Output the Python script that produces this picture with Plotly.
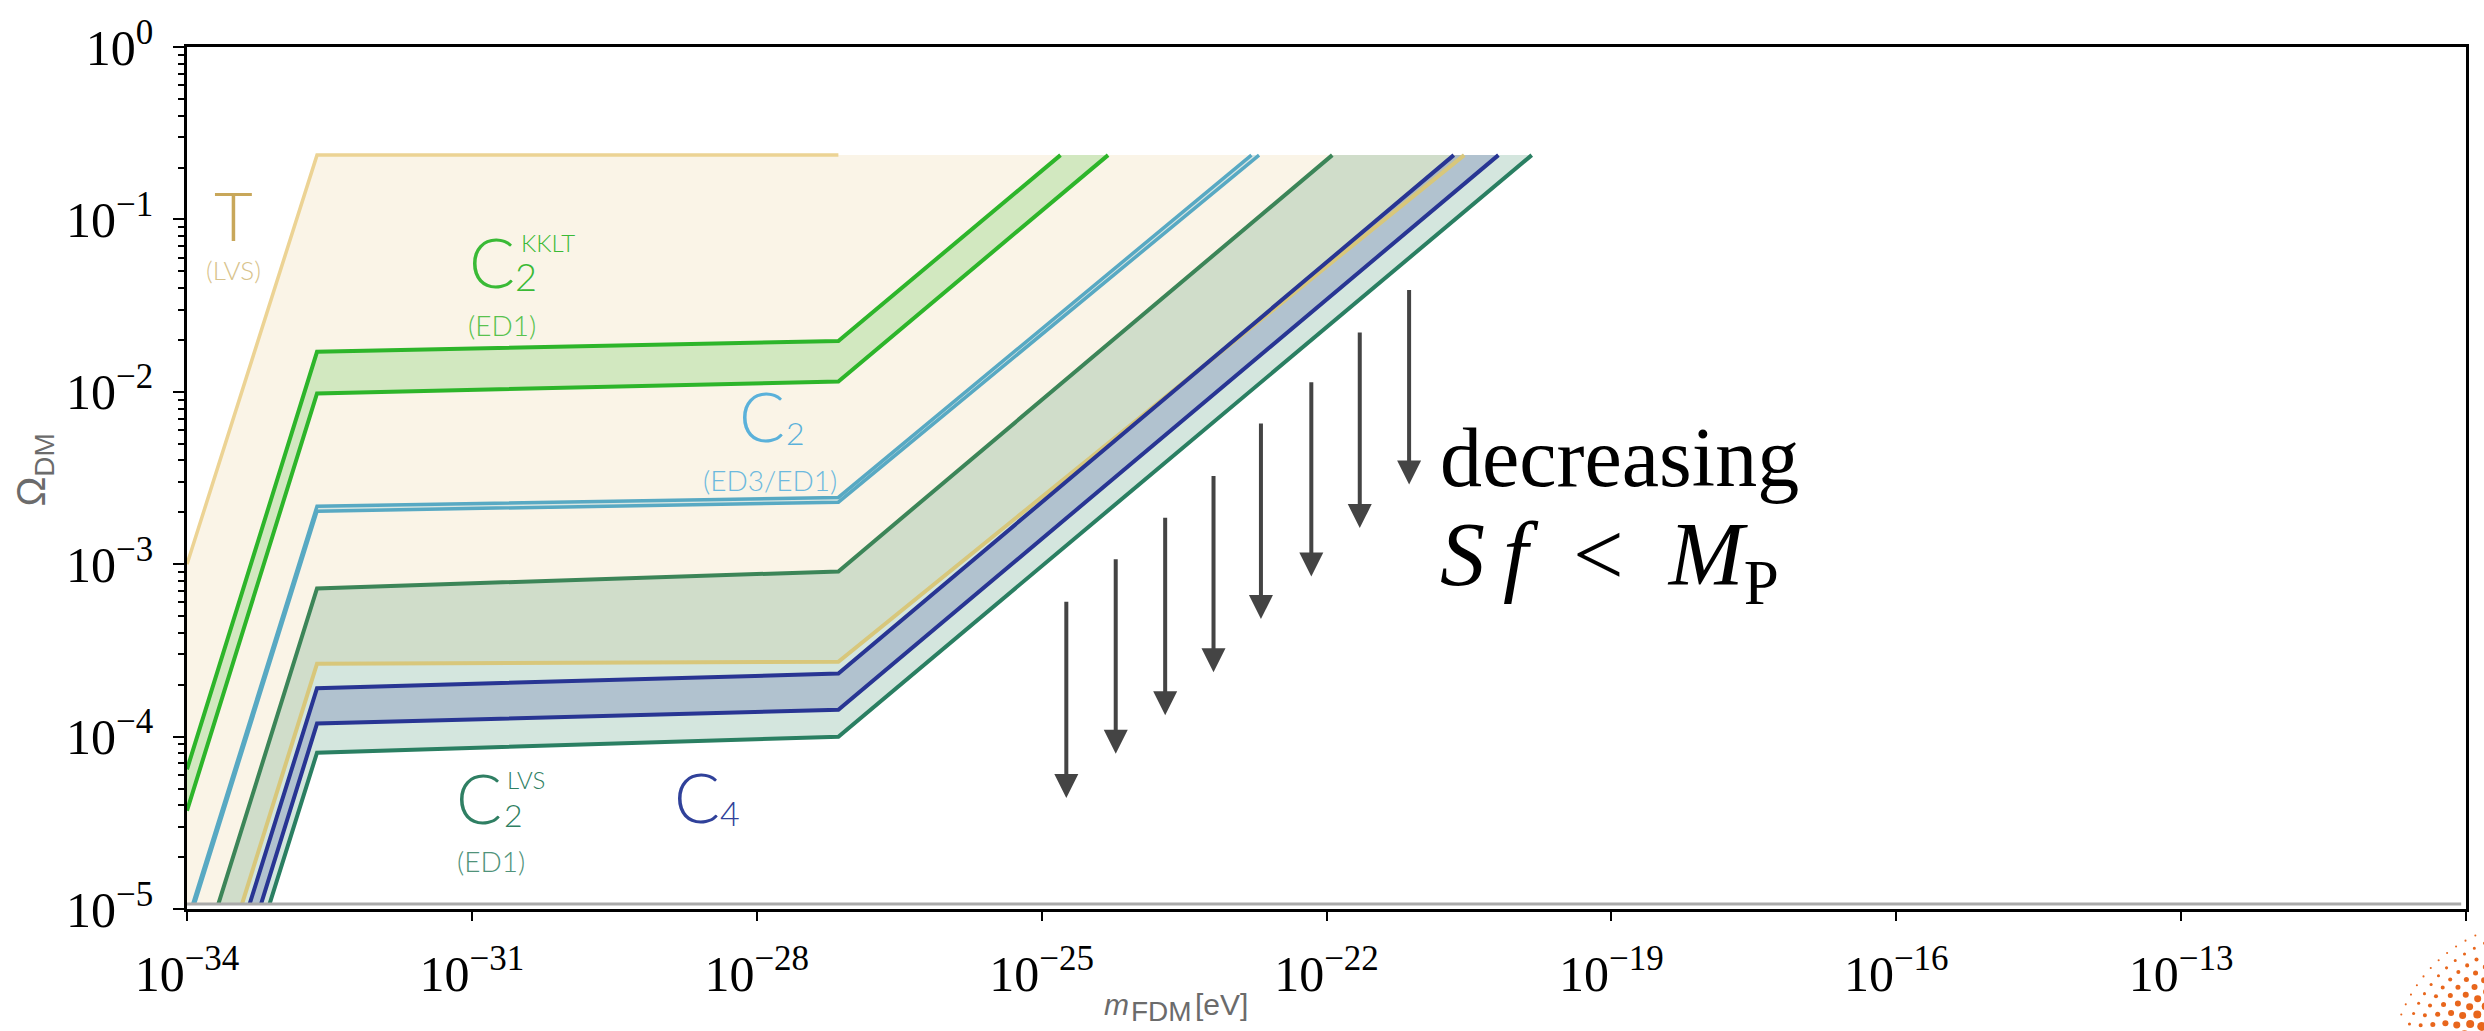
import numpy as np
import plotly.graph_objects as go

# ---------------- data ----------------
x_tick_vals = [1e-34, 1e-31, 1e-28, 1e-25, 1e-22, 1e-19, 1e-16, 1e-13, 1e-10]
x_tick_text = ["10<sup>−34</sup>", "10<sup>−31</sup>", "10<sup>−28</sup>", "10<sup>−25</sup>",
               "10<sup>−22</sup>", "10<sup>−19</sup>", "10<sup>−16</sup>", "10<sup>−13</sup>", ""]
y_tick_vals = [1e-5, 1e-4, 1e-3, 1e-2, 1e-1, 1e0]
y_tick_text = ["10<sup>−5</sup>", "10<sup>−4</sup>", "10<sup>−3</sup>",
               "10<sup>−2</sup>", "10<sup>−1</sup>", "10<sup>0</sup>"]

# boundary lines  (m_FDM [eV], Omega_DM)
T_upper_m = [1e-34, 2.34e-33, 7.24e-28]
T_upper_om = [1.0e-3, 0.236, 0.236]
T_lower_m = [3.80e-34, 2.34e-33, 7.24e-28, 2.82e-21]
T_lower_om = [1.07e-5, 2.65e-4, 2.72e-4, 0.236]

kklt_upper_m = [1e-34, 2.34e-33, 7.24e-28, 1.58e-25]
kklt_upper_om = [6.46e-5, 0.01706, 0.01972, 0.236]
kklt_lower_m = [1e-34, 2.34e-33, 7.24e-28, 5.01e-25]
kklt_lower_om = [3.72e-5, 9.79e-3, 0.01148, 0.236]

c2_upper_m = [1.15e-34, 2.34e-33, 7.24e-28, 1.62e-23]
c2_upper_om = [1.07e-5, 2.17e-3, 2.44e-3, 0.236]
c2_lower_m = [1.20e-34, 2.34e-33, 7.24e-28, 1.95e-23]
c2_lower_om = [1.07e-5, 2.03e-3, 2.29e-3, 0.236]

lvs_upper_m = [2.14e-34, 2.34e-33, 7.24e-28, 1.15e-22]
lvs_upper_om = [1.07e-5, 7.24e-4, 9.08e-4, 0.236]
lvs_lower_m = [7.41e-34, 2.34e-33, 7.24e-28, 1.45e-20]
lvs_lower_om = [1.07e-5, 8.07e-5, 9.98e-5, 0.236]

c4_upper_m = [4.57e-34, 2.34e-33, 7.24e-28, 2.19e-21]
c4_upper_om = [1.07e-5, 1.91e-4, 2.32e-4, 0.236]
c4_lower_m = [6.03e-34, 2.34e-33, 7.24e-28, 6.46e-21]
c4_lower_om = [1.07e-5, 1.19e-4, 1.43e-4, 0.236]

floor_m = [1e-34, 8.9e-11]
floor_om = [1.07e-5, 1.07e-5]

# arrows "decreasing S f < M_P"
arrow_m = [1.82e-25, 6.03e-25, 2.00e-24, 6.46e-24, 2.04e-23, 6.92e-23, 2.24e-22, 7.41e-22]
arrow_top = [6.18e-4, 1.09e-3, 1.90e-3, 3.31e-3, 6.68e-3, 0.0116, 0.0225, 0.0397]
arrow_tip = [4.40e-5, 7.96e-5, 1.33e-4, 2.36e-4, 4.81e-4, 8.49e-4, 1.62e-3, 2.90e-3]

# ---------------- figure ----------------
W, H = 2484, 1031
L, R, T, B = 187, 2466, 38, 909


def pp(x, y):
    return (x - L) / (R - L), (B - y) / (B - T)


fig = go.Figure()


def band(um, uo, lm, lo, color, extra_m=None, extra_o=None):
    xs = list(um) + list(lm)[::-1]
    ys = list(uo) + list(lo)[::-1]
    if extra_m is not None:
        xs += extra_m
        ys += extra_o
    fig.add_trace(go.Scatter(x=xs, y=ys, mode="lines", fill="toself", fillcolor=color,
                             line=dict(width=0), hoverinfo="skip", showlegend=False))


def line(m, o, color, width):
    fig.add_trace(go.Scatter(x=m, y=o, mode="lines", line=dict(color=color, width=width),
                             hoverinfo="skip", showlegend=False))


# fills
band(T_upper_m + [T_lower_m[-1]], T_upper_om + [T_lower_om[-1]],
     T_lower_m, T_lower_om, "#faf4e7", [T_upper_m[0]], [T_lower_om[0]])
band(lvs_upper_m, lvs_upper_om, lvs_lower_m, lvs_lower_om, "rgba(40,130,90,0.2)")
band(c4_upper_m, c4_upper_om, c4_lower_m, c4_lower_om, "rgba(72,86,162,0.25)")
band(kklt_upper_m, kklt_upper_om, kklt_lower_m, kklt_lower_om, "rgba(90,196,75,0.25)")
band(c2_upper_m, c2_upper_om, c2_lower_m, c2_lower_om, "rgba(120,190,215,0.25)")

# lines
line(T_upper_m, T_upper_om, "#ecd394", 3.5)
line(T_lower_m, T_lower_om, "#d8c77b", 4)
line(kklt_upper_m, kklt_upper_om, "#2db52a", 4)
line(kklt_lower_m, kklt_lower_om, "#2db52a", 4)
line(c2_upper_m, c2_upper_om, "#58a9c3", 3.5)
line(c2_lower_m, c2_lower_om, "#58a9c3", 3.5)
line(lvs_upper_m, lvs_upper_om, "#3c8558", 4)
line(c4_upper_m, c4_upper_om, "#283593", 4)
line(c4_lower_m, c4_lower_om, "#283593", 4)
line(lvs_lower_m, lvs_lower_om, "#2a7f62", 4)
line(floor_m, floor_om, "#aaaaaa", 3)

# arrows
for m, top, tip in zip(arrow_m, arrow_top, arrow_tip):
    fig.add_annotation(x=np.log10(m), y=np.log10(tip), ax=np.log10(m), ay=np.log10(top),
                       xref="x", yref="y", axref="x", ayref="y", text="", showarrow=True,
                       arrowhead=2, arrowsize=1.2, arrowwidth=4, arrowcolor="#444444", standoff=0)

# text labels
labels = [
    ("T", 233, 214, 67, "#c8a75a"),
    ("(LVS)", 233, 266, 26, "#d8c38c"),
    ("C", 492, 262, 68, "#3aba36"),
    ("2", 526, 273, 38, "#3aba36"),
    ("KKLT", 548, 238, 24, "#3aba36"),
    ("(ED1)", 502, 322, 28, "#58c24e"),
    ("C", 762, 417, 68, "#5ab1da"),
    ("2", 795, 431, 32, "#5ab1da"),
    ("(ED3/ED1)", 770, 478, 28, "#6cb9de"),
    ("C", 479, 803, 68, "#2f7f63"),
    ("2", 513, 817, 32, "#2f7f63"),
    ("LVS", 526, 781, 24, "#2f7f63"),
    ("(ED1)", 491, 863, 28, "#4f927a"),
    ("C", 697, 802, 68, "#30419a"),
    ("4", 730, 815, 34, "#30419a"),
]
for txt, cx, cy, sz, col in labels:
    x, y = pp(cx, cy - 0.1 * sz)
    fig.add_annotation(x=x, y=y, xref="paper", yref="paper", text=txt, showarrow=False,
                       xanchor="center", yanchor="middle",
                       font=dict(family="Lato", size=sz, color=col, weight=300))

serif = "Liberation Serif"
x, y = pp(1438, 453)
fig.add_annotation(x=x, y=y, xref="paper", yref="paper", text="decreasing", showarrow=False,
                   xanchor="left", yanchor="middle", font=dict(family=serif, size=84, color="black"))
x, y = pp(1438, 558)
fig.add_annotation(x=x, y=y, xref="paper", yref="paper",
                   text="<i>S\u2009f</i>&nbsp;&nbsp;&lt;&nbsp;&nbsp;<i>M</i><sub>P</sub>", showarrow=False,
                   xanchor="left", yanchor="middle", font=dict(family=serif, size=90, color="black"))

# axis titles
sans = "Liberation Sans"
gray = "#6b6b6b"
x, y = pp(34, 466)
fig.add_annotation(x=x, y=y, xref="paper", yref="paper", text="Ω<sub>DM</sub>", textangle=-90,
                   showarrow=False, xanchor="center", yanchor="middle",
                   font=dict(family=sans, size=40, color=gray))
for txt, lx, cy, sz in [("<i>m</i>", 1102, 1006, 30), ("FDM", 1129, 1013, 28), ("[eV]", 1193, 1006, 30)]:
    x, y = pp(lx, cy)
    fig.add_annotation(x=x, y=y, xref="paper", yref="paper", text=txt, showarrow=False,
                       xanchor="left", yanchor="middle", font=dict(family=sans, size=sz, color=gray))

# decorative logo (orange halftone dots, bottom right)
shapes = []
cxl, cyl = 2540, 1070
for r in np.arange(50, 150, 11):
    n = int(np.pi / 2 * r / 11) + 1
    for a in np.linspace(np.pi / 2, np.pi, n):
        px = cxl + r * np.cos(a)
        py = cyl - r * np.sin(a)
        if px > W + 5 or py > H + 5 or px < 2400 or py < 930:
            continue
        rad = max(0.9, 5.5 - 0.045 * (r - 50))
        x0, y0 = pp(px - rad, py + rad)
        x1, y1 = pp(px + rad, py - rad)
        shapes.append(dict(type="circle", xref="paper", yref="paper", x0=x0, y0=y0, x1=x1, y1=y1,
                           fillcolor="#e8661c", line=dict(width=0), layer="above"))

fig.update_layout(
    width=W, height=H, margin=dict(l=L, r=W - R, t=T, b=H - B),
    paper_bgcolor="white", plot_bgcolor="white", showlegend=False, shapes=shapes,
    xaxis=dict(type="log", range=[-34, -10], tickmode="array", tickvals=x_tick_vals, ticktext=x_tick_text,
               ticks="outside", ticklen=9, tickwidth=2, tickcolor="black",
               showline=True, linecolor="black", linewidth=3, mirror=True,
               showgrid=False, zeroline=False, ticklabelstandoff=10,
               tickfont=dict(family=serif, size=50, color="black")),
    yaxis=dict(type="log", range=[-5, 0], tickmode="array", tickvals=y_tick_vals, ticktext=y_tick_text,
               ticks="outside", ticklen=11, tickwidth=2, tickcolor="black",
               minor=dict(tickmode="array",
                          tickvals=[k * 10.0 ** e for e in range(-5, 0) for k in range(2, 10)],
                          ticks="outside", ticklen=6, tickwidth=2, tickcolor="black", showgrid=False),
               showline=True, linecolor="black", linewidth=2.5, mirror=True,
               showgrid=False, zeroline=False, ticklabelstandoff=10,
               tickfont=dict(family=serif, size=50, color="black")),
)

fig.write_html("out.html", config={"displayModeBar": False})
